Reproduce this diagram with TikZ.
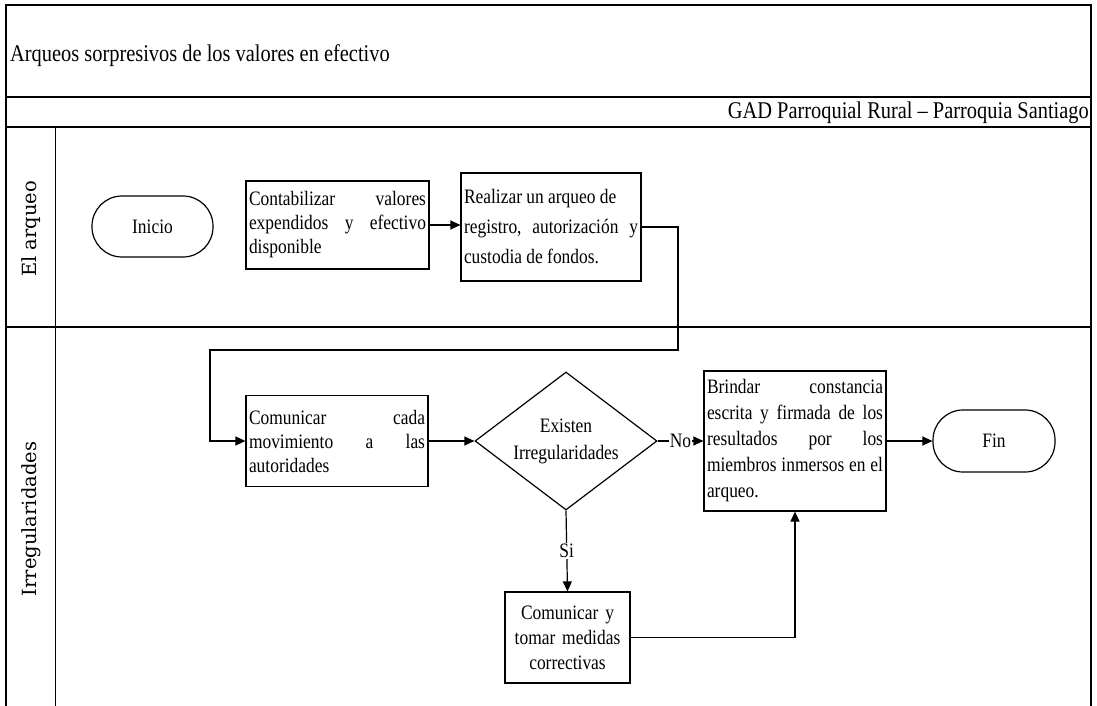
\documentclass[tikz,border=0pt]{standalone}
\usepackage{fontspec}
\setmainfont{Liberation Serif}[FakeStretch=0.85]
\newfontfamily\lanefont{DejaVu Serif}
\usetikzlibrary{arrows.meta,shapes.geometric}

\begin{document}
\begin{tikzpicture}[x=1pt,y=-1pt,
  every node/.style={font=\fontsize{20.5}{24}\selectfont},
  frame/.style={line width=2pt},
  thinframe/.style={line width=1pt},
  proc/.style={draw, line width=1.2pt, inner xsep=3pt, inner ysep=0pt, align=flush left},
  term/.style={draw, line width=1.2pt, rounded corners=30pt, inner sep=0pt, align=center},
  decision/.style={draw, line width=1.2pt, diamond, aspect=1.32, inner sep=0pt,
    minimum width=182pt, minimum height=138pt, align=center},
  flow/.style={line width=1.2pt, -{Triangle[length=10pt,width=9pt]}},
  lane/.style={rotate=90, font=\lanefont\fontsize{19.5}{24}\selectfont},
  head/.style={inner sep=0pt, font=\fontsize{24}{28}\selectfont},
  lbl/.style={fill=white, inner sep=1pt}]

\useasboundingbox (0,0) rectangle (1097,706);
\clip (0,0) rectangle (1097,706);

% pool frame and lanes
\draw[frame] (6,712) -- (6,5) -- (1091,5) -- (1091,712);
\draw[line width=1.5pt] (6,97) -- (1091,97);
\draw[frame] (6,127) -- (1091,127);
\draw[frame] (6,327) -- (1091,327);
\draw[thinframe] (55,127) -- (55,712);

\node[head, anchor=west] (title) at (10,56) {Arqueos sorpresivos de los valores en efectivo};
\node[head, anchor=east] (org) at (1089,113) {GAD Parroquial Rural -- Parroquia Santiago};

\node[lane] (lane1) at (31,229) {El arqueo};
\node[lane] (lane2) at (31,519) {Irregularidades};

% lane 1
\node[term, minimum width=121pt, minimum height=61pt] (start) at (152.5,226.5) {Inicio};
\node[proc, text width=177pt, minimum height=88pt] (c1) at (337.5,225)
  {Contabilizar\hfill valores\\ expendidos\hfill y\hfill efectivo\\ disponible};
\node[proc, text width=174pt, minimum height=108pt,
  font=\fontsize{20.5}{30}\selectfont] (c2) at (551,227)
  {Realizar un arqueo de\\ registro,\hfill autorización\hfill y\\ custodia de fondos.};

% lane 2
\node[proc, text width=176pt, minimum height=91pt] (c3) at (337,441)
  {Comunicar\hfill cada\\ movimiento\hfill a\hfill las\\ autoridades};
\node[decision, font=\fontsize{20.5}{27}\selectfont] (d) at (566,441)
  {Existen\\ Irregularidades};
\node[proc, text width=176pt, minimum height=140pt,
  font=\fontsize{20.5}{26}\selectfont] (c5) at (795,441)
  {Brindar\hfill constancia\\ escrita\hfill y\hfill firmada\hfill de\hfill los\\
   resultados\hfill por\hfill los\\ miembros\hfill inmersos\hfill en\hfill el\\ arqueo.};
\node[term, minimum width=122pt, minimum height=62pt] (fin) at (994,441) {Fin};
\node[proc, align=center, text width=119pt, minimum height=91pt,
  font=\fontsize{20.5}{25}\selectfont] (c6) at (567.5,637.5)
  {Comunicar y\\ tomar medidas\\ correctivas};

% connectors
\coordinate (k1) at (678,350);
\coordinate (k2) at (210,350);
\draw[flow] (c1.east) -- (c1.east -| c2.west);
\draw[flow] (c2.east) -| (k1) -- (k2) |- (c3.west);
\draw[flow] (c3) -- (d);
\draw[flow] (d) -- node[lbl] {No} (c5);
\draw[flow] (c5) -- (fin);
\draw[flow] (d.south) -- node[lbl] {Si} (c6.north);
\draw[flow] (c6.east) -| (c5.south);

\end{tikzpicture}
\end{document}
